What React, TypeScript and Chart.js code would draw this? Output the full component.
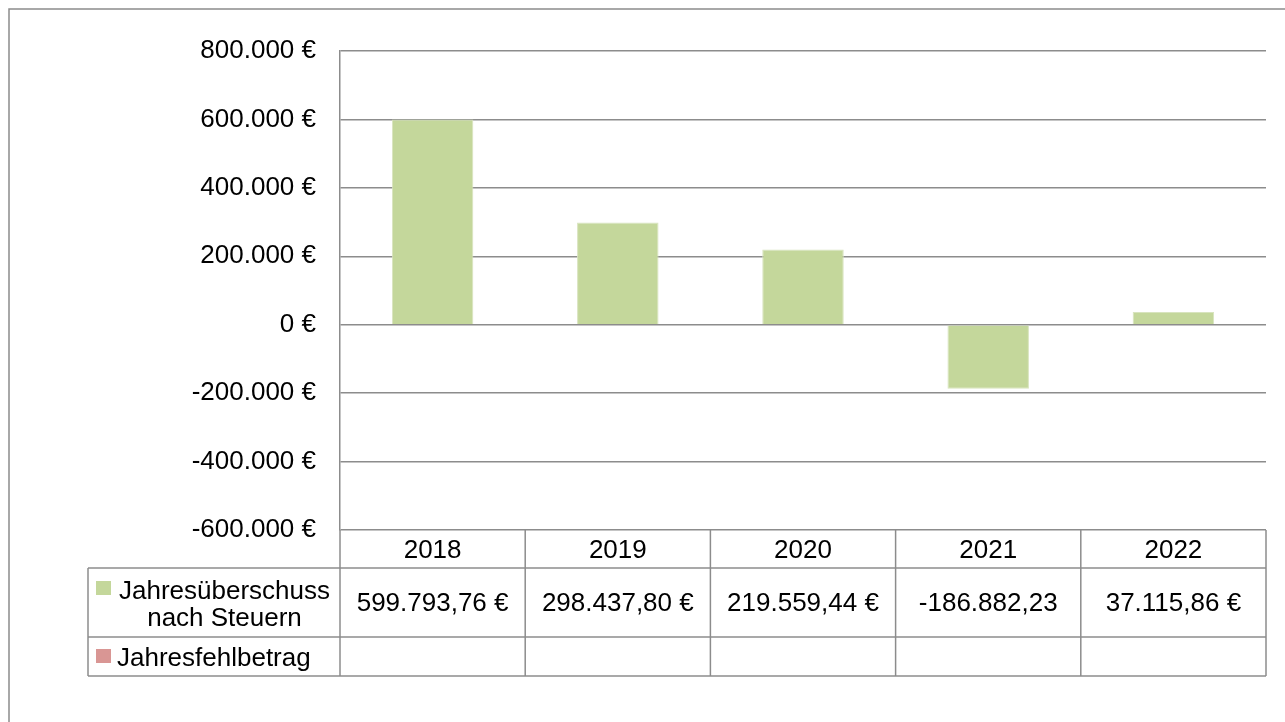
import React, { useEffect, useRef } from "react";
import { Chart, registerables } from "chart.js";

Chart.register(...registerables);

// ---- data ----
const years = ["2018", "2019", "2020", "2021", "2022"];
const ueberschuss = [599793.76, 298437.8, 219559.44, -186882.23, 37115.86];
const fehlbetrag: (number | null)[] = [null, null, null, null, null];
const ueberschussLabels = ["599.793,76 €", "298.437,80 €", "219.559,44 €", "-186.882,23", "37.115,86 €"];
const seriesUeberschuss = ["Jahresüberschuss", "nach Steuern"];
const seriesFehlbetrag = "Jahresfehlbetrag";
const yMin = -600000;
const yMax = 800000;
const yStep = 200000;

// ---- styles ----
const FONT_FAMILY = "'Liberation Sans', Arial, sans-serif";
const FONT_SIZE = 26;
const GRID = "#8c8c8c";
const GREEN = "#C4D79B";
const GREEN_BORDER = "#D8E4BE";
const RED = "#D99694";

function fmtEuro(v: number): string {
  const s = Math.abs(Math.round(v)).toString().replace(/\B(?=(\d{3})+(?!\d))/g, ".");
  return (v < 0 ? "-" : "") + s + " €";
}

const framePlugin = {
  id: "frame",
  beforeDraw(chart: any) {
    const { ctx, width, height } = chart;
    ctx.save();
    ctx.fillStyle = "#fff";
    ctx.fillRect(0, 0, width, height);
    ctx.strokeStyle = GRID;
    ctx.lineWidth = 1.5;
    ctx.beginPath();
    ctx.moveTo(9, height);
    ctx.lineTo(9, 9);
    ctx.lineTo(width, 9);
    ctx.stroke();
    ctx.restore();
  },
};

const tablePlugin = {
  id: "dataTable",
  afterDraw(chart: any) {
    const { ctx, chartArea: a } = chart;
    const x = chart.scales.x;
    const n = years.length;
    const colW = (a.right - a.left) / n;
    const legendLeft = 88;
    const r0 = a.bottom;
    const r1 = r0 + 38;
    const r2 = r1 + 69;
    const r3 = r2 + 39;
    ctx.save();
    ctx.strokeStyle = GRID;
    ctx.lineWidth = 1.5;
    const line = (x1: number, y1: number, x2: number, y2: number) => {
      ctx.beginPath();
      ctx.moveTo(x1, y1);
      ctx.lineTo(x2, y2);
      ctx.stroke();
    };
    line(legendLeft, r1, a.right, r1);
    line(legendLeft, r2, a.right, r2);
    line(legendLeft, r3, a.right, r3);
    line(legendLeft, r1, legendLeft, r3);
    for (let i = 0; i <= n; i++) {
      const xx = a.left + i * colW;
      line(xx, r0, xx, r3);
    }
    ctx.fillStyle = "#000";
    ctx.font = `${FONT_SIZE}px ${FONT_FAMILY}`;
    ctx.textAlign = "center";
    ctx.textBaseline = "middle";
    for (let i = 0; i < n; i++) {
      const cx = x.getPixelForValue(i);
      ctx.fillText(years[i], cx, r0 + 21);
      ctx.fillText(ueberschussLabels[i], cx, r1 + 36);
    }
    // legend keys + names
    ctx.fillStyle = GREEN;
    ctx.fillRect(96, r1 + 13, 15, 14);
    ctx.fillStyle = RED;
    ctx.fillRect(96, r2 + 12, 15, 14);
    ctx.fillStyle = "#000";
    ctx.textAlign = "center";
    ctx.fillText(seriesUeberschuss[0], 224.5, r1 + 24);
    ctx.fillText(seriesUeberschuss[1], 224.5, r1 + 51);
    ctx.textAlign = "left";
    ctx.fillText(seriesFehlbetrag, 117, r2 + 22);
    ctx.restore();
  },
};

export default function App() {
  const ref = useRef<HTMLCanvasElement | null>(null);
  useEffect(() => {
    if (!ref.current) return;
    const chart = new Chart(ref.current, {
      type: "bar",
      data: {
        labels: years,
        datasets: [
          {
            label: seriesUeberschuss.join(" "),
            data: ueberschuss,
            backgroundColor: GREEN,
            borderColor: GREEN_BORDER,
            borderWidth: 1,
            grouped: false,
            categoryPercentage: 1,
            barPercentage: 0.44,
          } as any,
          {
            label: seriesFehlbetrag,
            data: fehlbetrag,
            backgroundColor: RED,
            grouped: false,
            categoryPercentage: 1,
            barPercentage: 0.44,
          } as any,
        ],
      },
      options: {
        animation: false,
        responsive: false,
        maintainAspectRatio: false,
        layout: { padding: { left: 0, top: 51, right: 19, bottom: 192 } },
        plugins: { legend: { display: false }, tooltip: { enabled: false } },
        scales: {
          x: { display: false, grid: { display: false } },
          y: {
            min: yMin,
            max: yMax,
            ticks: {
              stepSize: yStep,
              callback: (v: any) => fmtEuro(Number(v)),
              font: { family: FONT_FAMILY, size: FONT_SIZE },
              color: "#000",
              padding: 24,
            },
            grid: { color: GRID, lineWidth: 1.5, drawTicks: false },
            border: { display: true, color: GRID, width: 1.5 },
            afterFit: (s: any) => {
              s.width = 340;
            },
          },
        },
      },
      plugins: [framePlugin, tablePlugin],
    });
    return () => chart.destroy();
  }, []);
  return (
    <div style={{ position: "absolute", left: 0, top: 0, width: 1285, height: 722, overflow: "hidden" }}>
      <canvas ref={ref} width={1285} height={722} style={{ display: "block" }} />
    </div>
  );
}
